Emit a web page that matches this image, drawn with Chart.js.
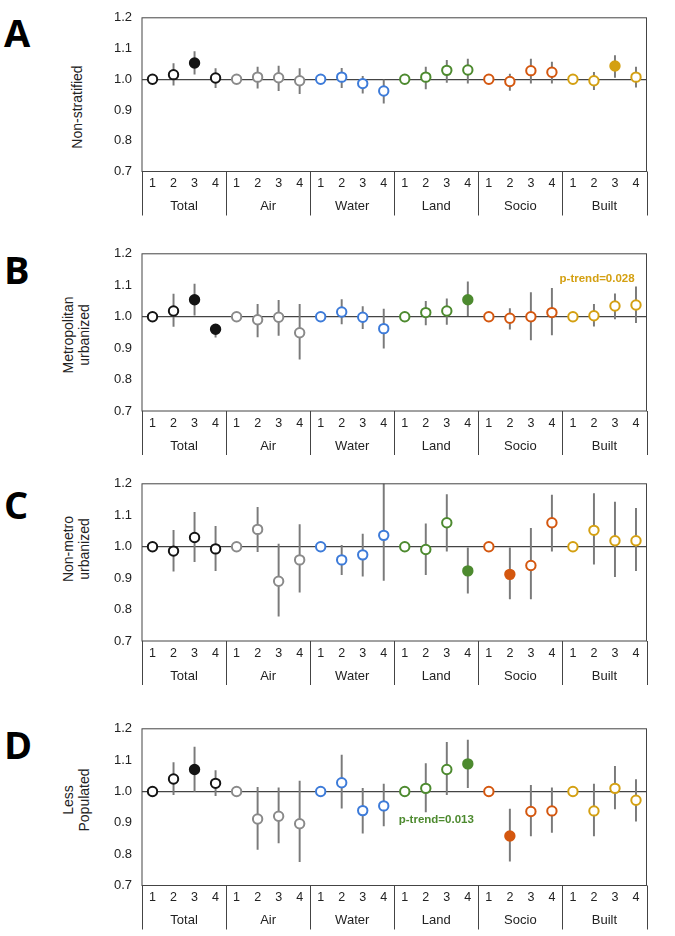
<!DOCTYPE html>
<html>
<head>
<meta charset="utf-8">
<script src="https://cdn.jsdelivr.net/npm/chart.js@4/dist/chart.umd.min.js"></script>
<style>
  html, body { margin: 0; padding: 0; background: #fff; }
  body { width: 675px; height: 936px; position: relative; overflow: hidden; font-family: 'Liberation Sans', Arial, sans-serif; }
  .panel { position: absolute; left: 0; }
  .letter { position: absolute; left: 4px; font-family: 'Open Sans', 'Liberation Sans', sans-serif; font-weight: 700; font-size: 38px; line-height: 38px; color: #000; }
  .ytitle { position: absolute; transform: translate(-50%, -50%) rotate(-90deg); font-size: 14px; line-height: 16px; color: #222; text-align: center; white-space: nowrap; }
</style>
</head>
<body>
<div class="letter" style="top:13px">A</div>
<div class="letter" style="top:250px">B</div>
<div class="letter" style="top:485px">C</div>
<div class="letter" style="top:725px">D</div>
<div class="ytitle" style="left:77px;top:107px">Non-stratified</div>
<div class="ytitle" style="left:76px;top:335px">Metropolitan<br>urbanized</div>
<div class="ytitle" style="left:76px;top:549px">Non-metro<br>urbanized</div>
<div class="ytitle" style="left:76px;top:800px">Less<br>Populated</div>
<canvas id="cA" class="panel" width="675" height="225" style="top:0px"></canvas>
<canvas id="cB" class="panel" width="675" height="225" style="top:236px"></canvas>
<canvas id="cC" class="panel" width="675" height="225" style="top:466px"></canvas>
<canvas id="cD" class="panel" width="675" height="225" style="top:711px"></canvas>
<script>
// ---- data ----
const groups = ['Total', 'Air', 'Water', 'Land', 'Socio', 'Built'];
const quartiles = ['1', '2', '3', '4'];
const categories = groups.flatMap(() => quartiles);

// Panel A: Non-stratified
const estA  = [1.00, 1.015, 1.053, 1.004, 1.00, 1.007, 1.005, 0.995, 1.00, 1.007, 0.986, 0.962, 1.00, 1.007, 1.029, 1.030, 1.00, 0.993, 1.028, 1.023, 1.00, 0.995, 1.043, 1.007];
const lowA  = [null, 0.981, 1.017, 0.973, null, 0.971, 0.963, 0.953, null, 0.973, 0.955, 0.922, null, 0.969, 0.990, 0.987, null, 0.964, 0.987, 0.987, null, 0.966, 1.006, 0.974];
const highA = [null, 1.051, 1.090, 1.035, null, 1.040, 1.043, 1.035, null, 1.036, 1.010, 0.998, null, 1.040, 1.062, 1.066, null, 1.017, 1.066, 1.056, null, 1.023, 1.077, 1.040];
const sigA  = [2, 22];

// Panel B: Metropolitan urbanized
const estB  = [1.00, 1.018, 1.054, 0.960, 1.00, 0.990, 0.998, 0.949, 1.00, 1.015, 0.998, 0.962, 1.00, 1.013, 1.018, 1.054, 1.00, 0.995, 1.000, 1.013, 1.00, 1.003, 1.034, 1.037];
const lowB  = [null, 0.969, 1.005, 0.935, null, 0.936, 0.940, 0.865, null, 0.977, 0.962, 0.900, null, 0.974, 0.975, 1.003, null, 0.960, 0.926, 0.942, null, 0.970, 0.993, 0.981];
const highB = [null, 1.072, 1.104, 0.974, null, 1.039, 1.052, 1.039, null, 1.054, 1.032, 1.024, null, 1.049, 1.057, 1.111, null, 1.026, 1.077, 1.090, null, 1.039, 1.073, 1.095];
const sigB  = [2, 3, 15];

// Panel C: Non-metro urbanized
const estC  = [1.00, 0.986, 1.029, 0.993, 1.00, 1.055, 0.890, 0.958, 1.00, 0.958, 0.974, 1.036, 1.00, 0.991, 1.076, 0.923, 1.00, 0.912, 0.940, 1.076, 1.00, 1.052, 1.019, 1.019];
const lowC  = [null, 0.922, 0.952, 0.924, null, 0.984, 0.779, 0.855, null, 0.911, 0.906, 0.893, null, 0.911, 0.986, 0.852, null, 0.834, 0.834, 0.986, null, 0.944, 0.905, 0.924];
const highC = [null, 1.052, 1.109, 1.065, null, 1.125, 1.008, 1.070, null, 1.004, 1.040, 1.230, null, 1.073, 1.166, 0.996, null, 0.996, 1.058, 1.164, null, 1.169, 1.142, 1.122];
const sigC  = [15, 17];

// Panel D: Less Populated
const estD  = [1.00, 1.040, 1.070, 1.026, 1.00, 0.912, 0.921, 0.897, 1.00, 1.028, 0.939, 0.954, 1.00, 1.010, 1.070, 1.088, 1.00, 0.858, 0.936, 0.938, 1.00, 0.938, 1.010, 0.972];
const lowD  = [null, 0.990, 1.000, 0.987, null, 0.815, 0.836, 0.776, null, 0.947, 0.867, 0.890, null, 0.935, 0.990, 1.012, null, 0.778, 0.858, 0.869, null, 0.858, 0.944, 0.905];
const highD = [null, 1.092, 1.142, 1.067, null, 1.013, 1.012, 1.033, null, 1.116, 1.010, 1.024, null, 1.089, 1.157, 1.164, null, 0.944, 1.020, 1.012, null, 1.024, 1.080, 1.038];
const sigD  = [2, 15, 17];

const yTicks = [0.7, 0.8, 0.9, 1.0, 1.1, 1.2];

// ---- styling ----
const groupColors = ['#141414', '#8a8a8a', '#3d7bd9', '#4d8a2f', '#d4570f', '#d4a012'];
const FONT = "'Liberation Sans', Arial, sans-serif";

const framePlugin = {
  id: 'frame',
  afterDraw(chart, args, opts) {
    const {ctx, chartArea: a} = chart;
    const xs = chart.scales.x;
    ctx.save();
    ctx.strokeStyle = '#444';
    ctx.lineWidth = 1;
    ctx.strokeRect(a.left, a.top, a.right - a.left, a.bottom - a.top);
    // group separators
    for (let b = 0; b <= groups.length; b++) {
      let x;
      if (b === 0) x = a.left;
      else if (b === groups.length) x = a.right;
      else x = (xs.getPixelForValue(b * 4 - 1) + xs.getPixelForValue(b * 4)) / 2;
      x = Math.round(x) + 0.5;
      ctx.beginPath();
      ctx.moveTo(x, a.bottom);
      ctx.lineTo(x, a.bottom + 44);
      ctx.stroke();
    }
    // group labels
    ctx.fillStyle = '#222';
    ctx.font = '13px ' + FONT;
    ctx.textAlign = 'center';
    ctx.textBaseline = 'middle';
    groups.forEach((g, i) => {
      const cx = (xs.getPixelForValue(i * 4) + xs.getPixelForValue(i * 4 + 3)) / 2;
      ctx.fillText(g, cx, a.bottom + 35);
    });
    // p-trend note
    if (opts && opts.text) {
      const ys = chart.scales.y;
      ctx.font = 'bold 11.5px ' + FONT;
      ctx.fillStyle = opts.color;
      ctx.fillText(opts.text, xs.getPixelForValue(opts.xIndex), ys.getPixelForValue(opts.yValue));
    }
    ctx.restore();
  }
};

function makeChart(id, est, low, high, sig, plotTop, canvasTop, plotBottom, note) {
  const colors = est.map((_, i) => groupColors[Math.floor(i / 4)]);
  const fills = est.map((_, i) => sig.includes(i) ? colors[i] : '#ffffff');
  const bars = low.map((l, i) => l == null ? null : [l, high[i]]);
  const xH = canvasTop + 225 - plotBottom;
  new Chart(document.getElementById(id), {
    type: 'bar',
    data: {
      labels: categories,
      datasets: [
        {
          type: 'line', data: est, showLine: false,
          pointRadius: 4.7, pointHoverRadius: 4.7, pointBorderWidth: 2,
          pointBorderColor: colors, pointBackgroundColor: fills, order: 0
        },
        {
          type: 'bar', data: bars, backgroundColor: '#7a7a7a',
          barThickness: 1.3, order: 1
        }
      ]
    },
    options: {
      responsive: false,
      animation: false,
      events: [],
      layout: { padding: { top: plotTop - canvasTop, right: 28.5, left: 0, bottom: 0 } },
      plugins: { legend: { display: false }, tooltip: { enabled: false }, frame: note || {} },
      scales: {
        x: {
          type: 'category', offset: true,
          grid: { display: false, drawTicks: false },
          border: { display: false },
          ticks: { font: { family: FONT, size: 12.5 }, color: '#222', padding: 5, maxRotation: 0, autoSkip: false },
          afterFit: s => { s.height = xH; }
        },
        y: {
          min: 0.7, max: 1.2,
          afterBuildTicks: s => { s.ticks = yTicks.map(v => ({ value: v })); },
          ticks: { callback: v => Number(v).toFixed(1), padding: 10, font: { family: FONT, size: 13 }, color: '#222' },
          grid: {
            drawTicks: false,
            color: c => (c.tick && Math.abs(c.tick.value - 1) < 1e-6) ? '#444' : 'rgba(0,0,0,0)',
            lineWidth: 1.3
          },
          border: { display: false },
          afterFit: s => { s.width = 142; }
        }
      }
    },
    plugins: [framePlugin]
  });
}

makeChart('cA', estA, lowA, highA, sigA, 10, 0, 171.5, null);
makeChart('cB', estB, lowB, highB, sigB, 249, 236, 411, { text: 'p-trend=0.028', color: '#d4a012', xIndex: 21.15, yValue: 1.121 });
makeChart('cC', estC, lowC, highC, sigC, 479, 466, 641, null);
makeChart('cD', estD, lowD, highD, sigD, 723, 711, 885.5, { text: 'p-trend=0.013', color: '#4d8a2f', xIndex: 13.5, yValue: 0.911 });
</script>
</body>
</html>
